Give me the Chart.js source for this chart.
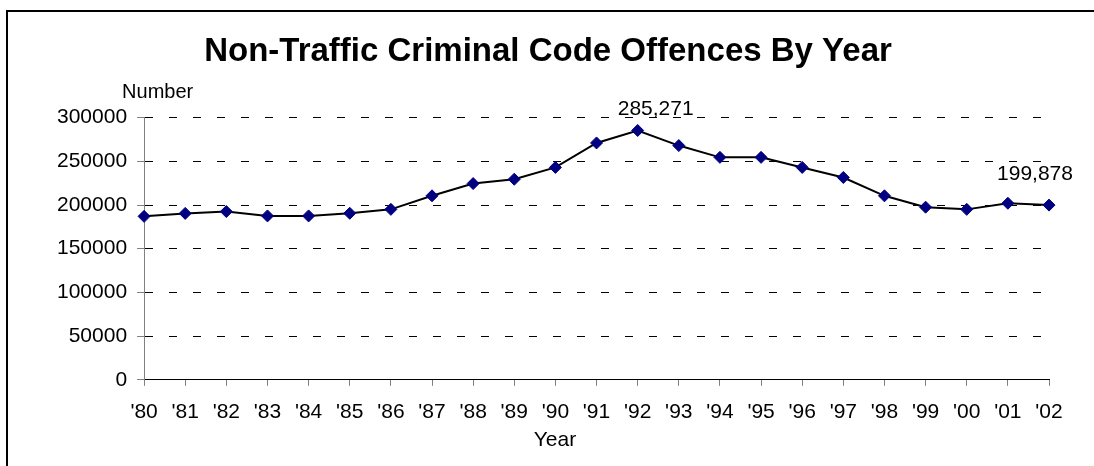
<!DOCTYPE html>
<html>
<head>
<meta charset="utf-8">
<script src="https://cdn.jsdelivr.net/npm/chart.js@4/dist/chart.umd.min.js"></script>
<style>
  html, body { margin: 0; padding: 0; background: #fff; }
  canvas { display: block; }
</style>
</head>
<body>
<canvas id="offencesChart" width="1094" height="466"></canvas>
<script>
var years = ["'80", "'81", "'82", "'83", "'84", "'85", "'86", "'87", "'88", "'89", "'90", "'91",
             "'92", "'93", "'94", "'95", "'96", "'97", "'98", "'99", "'00", "'01", "'02"];
var offences = [187000, 190400, 192500, 187500, 187500, 190500, 195000, 210500, 224500, 229500, 243000, 271000,
                285271, 268000, 254500, 254500, 243000, 231500, 210500, 197500, 195000, 202000, 199878];
var yTicks = [0, 50000, 100000, 150000, 200000, 250000, 300000];
// points that carry a value label
var labelled = [12, 22];

var FONT = '"Liberation Sans", Arial, sans-serif';

// frame, axis captions and value labels
var extras = {
    id: 'extras',
    beforeDraw: function (chart) {
        var c = chart.ctx;
        c.save();
        c.fillStyle = '#fff';
        c.fillRect(0, 0, chart.width, chart.height);
        c.restore();
    },
    afterDraw: function (chart) {
        var c = chart.ctx;
        var area = chart.chartArea;
        c.save();
        // outer frame (top + left only visible)
        c.fillStyle = '#000';
        c.fillRect(6, 10, chart.width - 6, 2);
        c.fillRect(6, 10, 2, chart.height - 10);

        c.fillStyle = '#000';
        c.font = '20px ' + FONT;
        c.textBaseline = 'middle';
        c.textAlign = 'left';
        c.fillText('Number', area.left - 22, area.top - 25);

        c.font = '21px ' + FONT;
        c.textAlign = 'center';
        c.fillText('Year', chart.width / 2 + 8, 440);

        // value labels, placed like the hand-moved Excel labels
        var pts = chart.getDatasetMeta(0).data;
        var offs = [[18, -21], [-14, -31]];
        labelled.forEach(function (idx, k) {
            var p = pts[idx];
            c.fillText(offences[idx].toLocaleString('en-US'), p.x + offs[k][0], p.y + offs[k][1]);
        });
        c.restore();
    }
};

new Chart(document.getElementById('offencesChart').getContext('2d'), {
    type: 'line',
    data: {
        labels: years,
        datasets: [{
            data: offences,
            borderColor: '#000',
            borderWidth: 2,
            pointStyle: 'rectRot',
            pointRadius: 6,
            pointHoverRadius: 6,
            pointBackgroundColor: '#000080',
            pointBorderColor: '#000080',
            pointBorderWidth: 1,
            tension: 0
        }]
    },
    options: {
        responsive: false,
        animation: false,
        devicePixelRatio: 1,
        layout: { padding: { left: 47, right: 45, top: 0, bottom: 27 } },
        plugins: {
            legend: { display: false },
            tooltip: { enabled: false },
            title: {
                display: true,
                text: 'Non-Traffic Criminal Code Offences By Year',
                color: '#000',
                font: { family: FONT, size: 33, weight: 'bold' },
                padding: { top: 32, bottom: 46 }
            }
        },
        scales: {
            x: {
                offset: false,
                grid: {
                    drawOnChartArea: false,
                    drawTicks: true,
                    tickLength: 6,
                    color: '#808080'
                },
                border: { color: '#000', width: 1 },
                ticks: {
                    color: '#000',
                    padding: 14,
                    maxRotation: 0,
                    autoSkip: false,
                    font: { family: FONT, size: 21 }
                }
            },
            y: {
                min: 0,
                max: 300000,
                afterBuildTicks: function (axis) {
                    axis.ticks = yTicks.map(function (v) { return { value: v }; });
                },
                grid: {
                    color: function (ctx) {
                        return ctx.tick && ctx.tick.value === 0 ? 'rgba(0,0,0,0)' : '#000';
                    },
                    tickBorderDash: [],
                    tickColor: '#808080',
                    tickLength: 7
                },
                border: { color: '#808080', width: 1, dash: [8, 16] },
                ticks: {
                    color: '#000',
                    padding: 10,
                    font: { family: FONT, size: 21 },
                    callback: function (v) { return String(v); }
                }
            }
        }
    },
    plugins: [extras]
});
</script>
</body>
</html>
